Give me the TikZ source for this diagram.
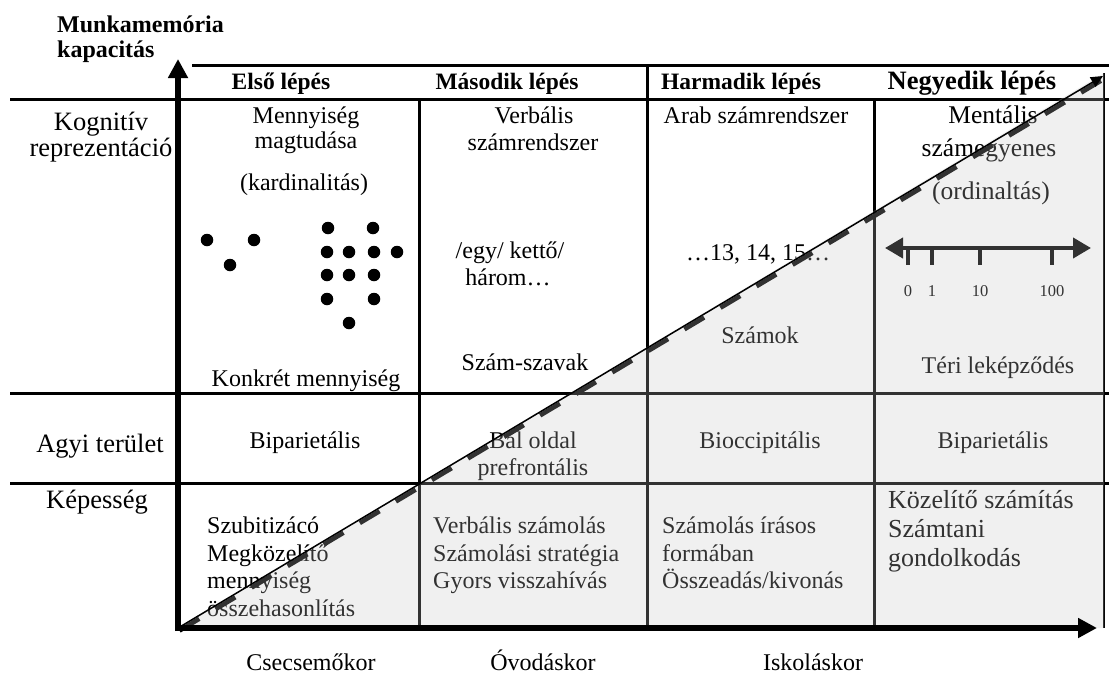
\documentclass[tikz,border=0pt]{standalone}
\usepackage{fontspec}
\setmainfont{Liberation Serif}
\usetikzlibrary{arrows.meta}
\definecolor{veil}{HTML}{C5C5C5}

\begin{document}
\begin{tikzpicture}[x=1pt,y=-1pt,
  txt/.style={anchor=base,inner sep=0pt,font=\fontsize{24}{27}\selectfont},
  txtl/.style={anchor=base west,inner sep=0pt,font=\fontsize{24}{27}\selectfont},
  larger/.style={font=\fontsize{25.5}{28}\selectfont},
  rowlbl/.style={anchor=base,inner sep=0pt,font=\fontsize{26.5}{29}\selectfont},
  head/.style={anchor=base,inner sep=0pt,font=\bfseries\fontsize{23.5}{26}\selectfont},
  numlbl/.style={anchor=base,inner sep=0pt,font=\fontsize{16.5}{18}\selectfont},
  rule/.style={line width=3pt},
  axis/.style={line width=6pt,-{Triangle[length=19pt,width=19pt]}},
  dot/.style={circle,fill=black,inner sep=0pt,minimum size=12.5pt},
  numaxis/.style={line width=4pt,{Triangle[length=18pt,width=20pt]}-{Triangle[length=18pt,width=20pt]}},
  trend/.style={line width=1.5pt,-{Triangle[length=12pt,width=11pt]}},
  trenddash/.style={line width=4.5pt,dash pattern=on 23pt off 19pt}
]
\useasboundingbox (0,0) rectangle (1109,675);

% key points of the frame
\coordinate (O) at (178,628);
\coordinate (ytip) at (178,59);
\coordinate (xtip) at (1097,628);
\coordinate (dtip) at (1103,76);
\coordinate (rtop) at (1104,73);
\coordinate (rbot) at (1104,628);

% table rules
\coordinate (hT0) at (192,65);   \coordinate (hT1) at (1109,65);
\coordinate (hB0) at (10,99);    \coordinate (hB1) at (1109,99);
\coordinate (r10) at (10,393);   \coordinate (r11) at (1109,393);
\coordinate (r20) at (10,483);   \coordinate (r21) at (1109,483);
\coordinate (c1t) at (419,99);   \coordinate (c1b) at (419,626);
\coordinate (c2t) at (647,65);   \coordinate (c2b) at (647,626);
\coordinate (c3t) at (874,99);   \coordinate (c3b) at (874,626);
\draw[rule] (hT0) -- (hT1);
\draw[rule] (hB0) -- (hB1);
\draw[rule] (r10) -- (r11);
\draw[rule] (r20) -- (r21);
\draw[rule] (c1t) -- (c1b);
\draw[rule] (c2t) -- (c2b);
\draw[rule] (c3t) -- (c3b);
\draw[line width=1.5pt] (rtop) -- (rbot);

% axis title
\node[txtl,font=\bfseries\fontsize{24}{26}\selectfont] (yt1) at (57,32) {Munkamemória};
\node[txtl,font=\bfseries\fontsize{24}{26}\selectfont] (yt2) at (57,57) {kapacitás};

% column headings
\node[head] (h1) at (281,89) {Első lépés};
\node[head] (h2) at (507,89) {Második lépés};
\node[head] (h3) at (741,89) {Harmadik lépés};
\node[head,font=\bfseries\fontsize{26.5}{29}\selectfont] (h4) at (972,89) {Negyedik lépés};

% row labels
\node[rowlbl] (k1) at (101,130) {Kognitív};
\node[rowlbl] (k2) at (101,156) {reprezentáció};
\node[rowlbl] (agy) at (100,452) {Agyi terület};
\node[rowlbl] (kep) at (97,508) {Képesség};

% first step
\node[txt] (a1) at (306,123) {Mennyiség};
\node[txt] (a2) at (306,148) {magtudása};
\node[txt] (a3) at (304,190) {(kardinalitás)};
\node[txt] (a4) at (306,386) {Konkrét mennyiség};
\node[txt] (a5) at (305,448) {Biparietális};
\node[txtl] (a6) at (207,533) {Szubitizácó};
\node[txtl] (a7) at (207,561) {Megközelítő};
\node[txtl] (a8) at (207,588) {mennyiség};
\node[txtl] (a9) at (207,616) {összehasonlítás};
\foreach \x/\y [count=\i] in {207/240,254/240,230/265,
    328/228,373/228,327/252,349/252,374/252,397/252,
    327/275,349/275,374/275,327/299,374/299,349/323}
  \node[dot] (dot\i) at (\x,\y) {};

% second step
\node[txt] (b1) at (534,123) {Verbális};
\node[txt] (b2) at (533,150) {számrendszer};
\node[txt] (b3) at (510,258) {/egy/ kettő/};
\node[txt] (b4) at (508,285) {három…};
\node[txt] (b5) at (525,370) {Szám-szavak};
\node[txt] (b6) at (533,448) {Bal oldal};
\node[txt] (b7) at (533,475) {prefrontális};
\node[txtl] (b8) at (433,533) {Verbális számolás};
\node[txtl] (b9) at (433,561) {Számolási stratégia};
\node[txtl] (b10) at (433,588) {Gyors visszahívás};

% third step
\node[txt] (c1) at (756,123) {Arab számrendszer};
\node[txt] (c2) at (758,260) {…13, 14, 15…};
\node[txt] (c3) at (760,343) {Számok};
\node[txt] (c4) at (760,448) {Bioccipitális};
\node[txtl] (c5) at (662,533) {Számolás írásos};
\node[txtl] (c6) at (662,561) {formában};
\node[txtl] (c7) at (662,588) {Összeadás/kivonás};

% fourth step
\node[txt,larger] (d1) at (993,123) {Mentális};
\node[txt,larger] (d2) at (989,156) {számegyenes};
\node[txt,larger] (d3) at (991,199) {(ordinaltás)};
\node[txt] (d4) at (998,373) {Téri leképződés};
\node[txt] (d5) at (993,448) {Biparietális};
\node[txtl,font=\fontsize{26}{29}\selectfont] (d6) at (888,508) {Közelítő számítás};
\node[txtl,font=\fontsize{26}{29}\selectfont] (d7) at (888,537) {Számtani};
\node[txtl,font=\fontsize{26}{29}\selectfont] (d8) at (888,566) {gondolkodás};

% number line
\coordinate (nl) at (885,248);
\coordinate (nr) at (1091,248);
\draw[numaxis] (nl) -- (nr);
\foreach \x/\t in {908/0,932/1,980/10,1052/100}{
  \draw[line width=4pt] (\x,248) -- (\x,265);
  \node[numlbl] (n\t) at (\x,296) {\t};
}

% age labels
\node[txt] (e1) at (311,670) {Csecsemőkor};
\node[txt] (e2) at (543,670) {Óvodáskor};
\node[txt] (e3) at (813,670) {Iskoláskor};

% rising trend: dashed band, shaded region, thin arrow
\draw[trenddash] ([shift={(1.5,2.6)}]O) -- ([shift={(1.5,2.6)}]dtip);
\fill[veil,fill opacity=0.26] (O) -- (rtop) -- (rbot) -- cycle;
\draw[trend] (O) -- (dtip);

% axes
\draw[axis] ([yshift=-3pt]O) -- (ytip);
\draw[axis] ([xshift=-3pt]O) -- (xtip);
\end{tikzpicture}
\end{document}
